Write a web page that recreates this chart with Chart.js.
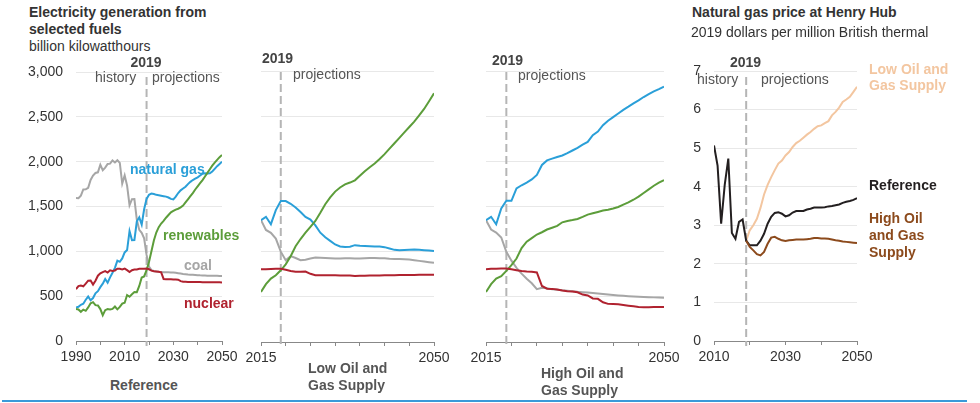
<!DOCTYPE html>
<html><head><meta charset="utf-8">
<script src="https://cdn.jsdelivr.net/npm/chart.js@4.4.1/dist/chart.umd.min.js"></script>
<style>
html,body{margin:0;padding:0;background:#fff;}
body{width:980px;height:403px;position:relative;overflow:hidden;font-family:"Liberation Sans",Arial,Helvetica,sans-serif;}
canvas{position:absolute;}
.t{position:absolute;white-space:nowrap;font-size:14px;line-height:17px;color:#333;}
.b{font-weight:bold;}
.g{color:#555;}
.hdr{color:#444;font-weight:bold;}
.rule{position:absolute;left:2px;top:400px;width:965px;height:2px;background:#3a9ad9;}
</style></head>
<body>
<canvas id="p1" width="245" height="310" style="left:0;top:60px"></canvas>
<canvas id="p2" width="215" height="310" style="left:245px;top:60px"></canvas>
<canvas id="p3" width="214" height="310" style="left:466px;top:60px"></canvas>
<canvas id="p4" width="195" height="310" style="left:680px;top:60px"></canvas>

<div class="t b" style="left:29px;top:4px;">Electricity generation from<br>selected fuels</div>
<div class="t" style="left:29px;top:38px;">billion kilowatthours</div>
<div class="t hdr" style="left:146px;top:54px;transform:translateX(-50%);">2019</div>
<div class="t g" style="left:95px;top:69px;">history</div>
<div class="t g" style="left:152px;top:69px;">projections</div>

<div class="t b" style="left:130px;top:161px;color:#2a9fd8;">natural gas</div>
<div class="t b" style="left:163px;top:227px;color:#5c9d3a;">renewables</div>
<div class="t b" style="left:184px;top:257px;color:#a6a6a6;">coal</div>
<div class="t b" style="left:184px;top:295px;color:#b0222f;">nuclear</div>
<div class="t b g" style="left:110px;top:377px;">Reference</div>

<div class="t hdr" style="left:262px;top:50px;">2019</div>
<div class="t g" style="left:293px;top:66px;">projections</div>
<div class="t b g" style="left:308px;top:360px;line-height:16.7px;">Low Oil and<br>Gas Supply</div>

<div class="t hdr" style="left:492px;top:52px;">2019</div>
<div class="t g" style="left:518px;top:67px;">projections</div>
<div class="t b g" style="left:541px;top:365px;line-height:16.7px;">High Oil and<br>Gas Supply</div>

<div class="t b" style="left:692px;top:4px;">Natural gas price at Henry Hub</div>
<div class="t" style="left:691px;top:24px;">2019 dollars per million British thermal</div>
<div class="t hdr" style="left:730px;top:54px;">2019</div>
<div class="t g" style="left:697px;top:71px;">history</div>
<div class="t g" style="left:761px;top:71px;">projections</div>
<div class="t b" style="left:869px;top:61px;line-height:16px;color:#f3c6a0;">Low Oil and<br>Gas Supply</div>
<div class="t b" style="left:869px;top:177px;color:#231f20;">Reference</div>
<div class="t b" style="left:869px;top:210px;color:#8c4a1c;">High Oil<br>and Gas<br>Supply</div>

<div class="rule"></div>

<script>
// ---------- data ----------
const markerYear = 2019;

function yearRange(a, b){ const r=[]; for(let y=a;y<=b;y++) r.push(y); return r; }
const years1 = yearRange(1990, 2050);
const years2 = yearRange(2015, 2050);
const yearsPrice = yearRange(2010, 2050);
const yearsPriceProj = yearRange(2019, 2050);

// Reference case, billion kWh, 1990-2050
const refCoal = [1594,1592,1621,1690,1691,1709,1796,1845,1874,1881,1966,1904,1933,1974,1978,2013,1991,2016,1986,1756,1847,1733,1514,1581,1582,1352,1239,1206,1146,960,
  830,790,780,775,772,770,768,767,766,765,764,760,756,752,748,745,742,740,738,736,734,732,731,730,729,728,728,727,727,726,725];
const refGas = [373,382,404,415,460,496,455,479,531,556,601,639,691,650,710,761,816,897,883,921,988,1014,1226,1125,1127,1335,1379,1298,1469,1585,
  1630,1645,1640,1630,1625,1620,1615,1610,1600,1585,1580,1610,1650,1680,1700,1720,1750,1775,1795,1810,1825,1845,1865,1870,1868,1870,1890,1920,1950,1975,2000];
const refNuclear = [577,613,619,610,640,673,675,629,673,728,754,769,780,764,789,782,787,806,806,799,807,790,769,789,797,797,806,805,807,809,
  800,785,778,775,772,765,692,690,689,688,687,686,684,668,660,660,659,659,658,658,657,657,656,656,655,655,655,654,654,654,653];
const refRenew = [357,352,326,350,337,374,420,433,400,396,356,288,344,356,351,358,385,353,380,417,427,513,494,522,546,544,614,708,720,790,
  880,1000,1120,1210,1270,1310,1340,1375,1405,1435,1450,1465,1475,1490,1510,1545,1580,1615,1650,1690,1725,1760,1795,1835,1875,1915,1955,1990,2020,2050,2075];

// Low Oil and Gas Supply, 2015-2050
const lowGas = [1349,1386,1304,1460,1560,1560,1530,1490,1440,1385,1355,1290,1210,1160,1120,1080,1058,1052,1055,1072,1065,1062,1060,1058,1056,1050,1035,1020,1015,1018,1022,1025,1020,1016,1012,1008];
const lowCoal = [1349,1240,1208,1145,1000,905,950,930,905,910,925,935,932,930,928,925,924,926,928,925,924,928,931,930,928,926,922,920,918,916,912,905,898,890,883,876];
const lowNuclear = [805,806,808,810,812,800,785,777,778,780,755,740,739,739,738,738,737,736,735,732,733,734,735,736,737,738,739,740,741,742,742,743,744,744,745,745];
const lowRenew = [554,640,702,739,794,860,950,1060,1140,1210,1275,1340,1430,1525,1600,1665,1710,1745,1765,1790,1840,1890,1935,1975,2025,2080,2140,2200,2260,2320,2380,2440,2510,2580,2665,2753];

// High Oil and Gas Supply, 2015-2050
const highGas = [1349,1386,1304,1478,1563,1563,1700,1735,1765,1800,1850,1960,2010,2030,2048,2065,2090,2120,2150,2185,2215,2290,2330,2400,2450,2490,2530,2570,2605,2642,2675,2712,2745,2775,2800,2827];
const highCoal = [1349,1245,1212,1157,998,900,820,757,700,650,585,600,595,585,578,572,568,562,556,552,548,543,538,532,526,520,515,511,507,503,500,498,496,494,492,491];
const highNuclear = [805,810,812,813,813,805,795,785,780,778,770,620,590,588,580,570,563,558,550,525,515,482,478,440,422,420,418,410,402,395,388,386,386,387,387,388];
const highRenew = [554,640,702,728,787,850,924,1040,1110,1150,1190,1215,1245,1265,1285,1325,1340,1350,1362,1385,1410,1425,1440,1455,1465,1478,1495,1520,1545,1575,1610,1650,1690,1730,1765,1792];

// Henry Hub price, 2019 $/MMBtu
const priceRef = [5.07,4.55,3.04,4.05,4.73,2.8,2.65,3.09,3.15,2.6,
  2.48,2.48,2.48,2.6,2.78,3.04,3.22,3.32,3.34,3.30,
  3.23,3.26,3.33,3.37,3.37,3.37,3.41,3.43,3.46,3.46,
  3.46,3.47,3.49,3.5,3.52,3.54,3.58,3.61,3.63,3.66,3.70];
const priceLow = [2.6,2.87,3.0,3.17,3.45,3.8,4.05,4.25,4.43,4.6,4.68,4.81,4.9,5.03,5.13,5.19,5.27,5.35,5.42,5.5,5.57,5.59,5.65,5.7,5.85,5.94,6.05,6.2,6.26,6.33,6.46,6.59];
const priceHigh = [2.6,2.44,2.35,2.25,2.22,2.31,2.52,2.68,2.7,2.65,2.61,2.59,2.61,2.62,2.63,2.63,2.63,2.64,2.65,2.67,2.67,2.66,2.66,2.65,2.63,2.61,2.6,2.58,2.57,2.56,2.55,2.54];

const elecTicks = [0,500,1000,1500,2000,2500,3000];
const priceTicks = [0,1,2,3,4,5,6,7];

// ---------- colours ----------
const C = {gas:'#2a9fd8', renew:'#5c9d3a', coal:'#a6a6a6', nuclear:'#b0222f',
           pRef:'#231f20', pLow:'#f3c6a0', pHigh:'#8c4a1c'};

Chart.defaults.font.family = '"Liberation Sans", Arial, Helvetica, sans-serif';
Chart.defaults.font.size = 14;
Chart.defaults.color = '#333';

const markerPlugin = {
  id:'marker',
  beforeDatasetsDraw(chart, args, opts){
    const x = chart.scales.x.getPixelForValue(opts.year);
    const a = chart.chartArea, ctx = chart.ctx;
    ctx.save();
    ctx.strokeStyle = '#b5b5b5'; ctx.lineWidth = 2; ctx.setLineDash([8,4]);
    ctx.beginPath(); ctx.moveTo(x, a.top + opts.topOffset); ctx.lineTo(x, a.bottom + 5); ctx.stroke();
    ctx.restore();
  }
};

function pts(xs, ys, x0){ const off = x0 ? xs.indexOf(x0) : 0; return ys.map((v,i)=>({x:xs[i+off], y:v})); }

function panel(id, o){
  return new Chart(document.getElementById(id), {
    type:'line',
    data:{datasets:o.series.map(s=>({data:pts(s.x, s.y), borderColor:s.color, borderWidth:2, pointRadius:0, tension:0, fill:false}))},
    options:{
      responsive:false, animation:false, events:[],
      layout:{padding:{top:o.padTop, right:o.padRight, left:0, bottom:0}},
      plugins:{legend:{display:false}, tooltip:{enabled:false}, marker:{year:markerYear, topOffset:o.markerTop}},
      scales:{
        x:{type:'linear', min:o.xMin, max:o.xMax,
          ticks:{stepSize:o.xStep, autoSkip:false, maxRotation:0, padding:4, color:'#333', font:{size:14},
                 callback:(v)=> o.xLabels.includes(v) ? String(v) : ''},
          grid:{drawOnChartArea:false, drawTicks:true, tickLength:4, color:'#888', lineWidth:1},
          border:{display:true, color:'#888', width:1},
          afterFit:(s)=>{ s.height = o.xH; s.paddingLeft = 0; s.paddingRight = 0; }
        },
        y:{type:'linear', min:o.yTicks[0], max:o.yTicks[o.yTicks.length-1],
          afterBuildTicks:(s)=>{ s.ticks = o.yTicks.map(v=>({value:v})); },
          ticks:{display:o.showY, padding:13, color:'#333', font:{size:14}, callback:o.yFmt},
          grid:{color:'#e8e8e8', drawTicks:false, lineWidth:1},
          border:{display:false},
          afterFit:(s)=>{ s.width = o.yW; s.paddingTop = 0; s.paddingBottom = 0; }
        }
      }
    },
    plugins:[markerPlugin]
  });
}

const fmtK = v => v.toLocaleString('en-US');

panel('p1', {xMin:1990, xMax:2050, xStep:10, xLabels:[1990,2010,2030,2050], yTicks:elecTicks, showY:true, yFmt:fmtK,
  yW:76, padTop:12, padRight:23, xH:29, markerTop:5,
  series:[
    {x:years1, y:refNuclear, color:C.nuclear},
    {x:years1, y:refRenew, color:C.renew},
    {x:years1, y:refGas, color:C.gas},
    {x:years1, y:refCoal, color:C.coal}
  ]});

panel('p2', {xMin:2015, xMax:2050, xStep:5, xLabels:[2015,2050], yTicks:elecTicks, showY:false, yFmt:fmtK,
  yW:16, padTop:11, padRight:26, xH:28, markerTop:1,
  series:[
    {x:years2, y:lowNuclear, color:C.nuclear},
    {x:years2, y:lowRenew, color:C.renew},
    {x:years2, y:lowGas, color:C.gas},
    {x:years2, y:lowCoal, color:C.coal}
  ]});

panel('p3', {xMin:2015, xMax:2050, xStep:5, xLabels:[2015,2050], yTicks:elecTicks, showY:false, yFmt:fmtK,
  yW:20, padTop:11, padRight:16, xH:28, markerTop:1,
  series:[
    {x:years2, y:highNuclear, color:C.nuclear},
    {x:years2, y:highRenew, color:C.renew},
    {x:years2, y:highGas, color:C.gas},
    {x:years2, y:highCoal, color:C.coal}
  ]});

panel('p4', {xMin:2010, xMax:2050, xStep:10, xLabels:[2010,2030,2050], yTicks:priceTicks, showY:true, yFmt:v=>String(v),
  yW:34, padTop:11, padRight:18, xH:29, markerTop:6,
  series:[
    {x:yearsPriceProj, y:priceHigh, color:C.pHigh},
    {x:yearsPrice, y:priceRef, color:C.pRef},
    {x:yearsPriceProj, y:priceLow, color:C.pLow}
  ]});
</script>
</body></html>
